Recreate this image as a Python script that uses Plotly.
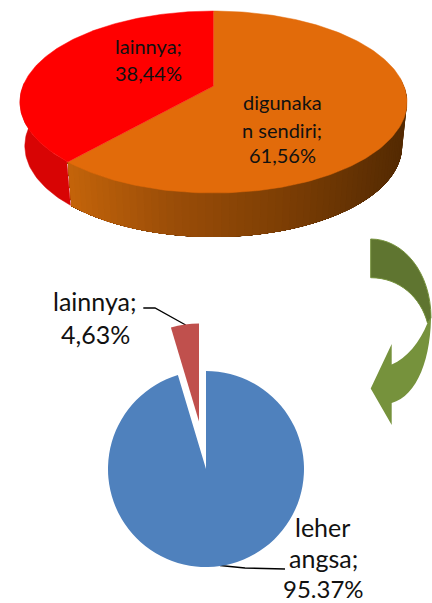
import numpy as np
import plotly.graph_objects as go

# ---- data ----
top_labels = ["lainnya", "digunakan sendiri"]
top_values = [38.44, 61.56]
bottom_labels = ["leher angsa", "lainnya"]
bottom_values = [95.37, 4.63]

top_text_lines = ["lainnya;", "38,44%", "digunaka", "n sendiri;", "61,56%"]
bottom_text_lines = ["lainnya;", "4,63%", "leher", "angsa;", "95.37%"]

W, H = 432, 603
FONT = "Lato, Carlito, Calibri, sans-serif"
TXT = "#111111"

# ---- top perspective pie geometry ----
CX, CY = 213.5, 102.0
RY, K, LIFT, RX = 91.0, 0.176, 16.0, 190.5
DEPTH, SHRINK = 44.0, 0.975


def rim(t_deg, depth=0.0, shrink=1.0):
    """Project a clockwise-from-top angle of the round pie into page pixels."""
    t = np.radians(t_deg)
    u, v = np.sin(t), np.cos(t)
    w = 1 + K * v
    return CX + shrink * RX * u / w, CY - (RY * v + LIFT) / w + depth


def apex():
    return CX, CY - LIFT


def mix(c1, c2, f):
    return "rgb(%d,%d,%d)" % tuple(round(a + (b - a) * f) for a, b in zip(c1, c2))


fig = go.Figure()


def poly(xs, ys, color, lw=0.5):
    fig.add_trace(go.Scatter(x=list(xs), y=list(ys), mode="lines", fill="toself",
                             fillcolor=color, line=dict(color=color, width=lw),
                             hoverinfo="skip", showlegend=False))


# the red slice runs anticlockwise from the top, the orange fills the rest
boundary = 360 - top_values[0] / sum(top_values) * 360

# side wall strips, painted back-to-front with each one reaching under the next
stops = [(0.0, (196, 100, 10)), (0.3, (156, 78, 8)), (0.65, (125, 62, 4)), (1.0, (84, 42, 2))]


def side_color(x):
    f = np.clip((x - 70) / (405 - 70), 0, 1)
    for (a, ca), (b, cb) in zip(stops, stops[1:]):
        if f <= b:
            return mix(ca, cb, (f - a) / (b - a))
    return mix(stops[-1][1], stops[-1][1], 0)


angles = np.linspace(85, boundary, 70)
for a0, a1 in zip(angles[:-1], angles[1:]):
    ts = np.linspace(a0, boundary, 40)
    x_top, y_top = rim(ts)
    x_bot, y_bot = rim(ts, DEPTH, SHRINK)
    xs = np.r_[x_top, x_bot[::-1]]
    ys = np.r_[y_top, y_bot[::-1]]
    poly(xs, ys, side_color(rim(a0)[0]), lw=0)

ts = np.linspace(272, boundary + 0.4, 40)
x_top, y_top = rim(ts)
x_bot, y_bot = rim(ts, DEPTH, SHRINK)
poly(np.r_[x_top, x_bot[::-1]], np.r_[y_top, y_bot[::-1]], "#D80404")

# top faces
ts = np.linspace(0, boundary, 200)
x, y = rim(ts)
poly(np.r_[apex()[0], x], np.r_[apex()[1], y], "#E26B0A")
ts = np.linspace(boundary, 360, 140)
x, y = rim(ts)
poly(np.r_[apex()[0], x], np.r_[apex()[1], y], "#FF0000")

# ---- bottom pie: each slice is its own native pie so the gap can run off freely ----
R = 98.0


def dom(cx, cy, r):
    return dict(x=[(cx - r) / W, (cx + r) / W], y=[1 - (cy + r) / H, 1 - (cy - r) / H])


clear = "rgba(0,0,0,0)"
fig.add_trace(go.Pie(labels=bottom_labels, values=bottom_values, sort=False,
                     direction="clockwise", rotation=0, textinfo="none", hoverinfo="skip",
                     marker=dict(colors=["#4F81BD", clear], line=dict(width=0)),
                     domain=dom(206, 469, R), showlegend=False))
fig.add_trace(go.Pie(labels=bottom_labels, values=bottom_values, sort=False,
                     direction="clockwise", rotation=0, textinfo="none", hoverinfo="skip",
                     marker=dict(colors=[clear, "#C0504D"], line=dict(width=0)),
                     domain=dom(199, 421.5, R), showlegend=False))

# ---- leader lines ----
for xs, ys in [([143.3, 155, 185.7], [308, 308, 325]),
               ([220, 245, 285], [565.5, 568, 569])]:
    fig.add_trace(go.Scatter(x=xs, y=ys, mode="lines", line=dict(color="#000000", width=1.3),
                             hoverinfo="skip", showlegend=False))

# ---- text ----
placed = [(top_text_lines[0], 148, 46, 20), (top_text_lines[1], 148, 73, 20),
          (top_text_lines[2], 282, 102, 20), (top_text_lines[3], 282, 130, 20),
          (top_text_lines[4], 282, 155, 20),
          (bottom_text_lines[0], 95, 301, 25), (bottom_text_lines[1], 95, 334, 25),
          (bottom_text_lines[2], 322, 527, 25), (bottom_text_lines[3], 323, 558, 25),
          (bottom_text_lines[4], 323, 588, 24)]
annotations = [dict(x=x, y=y, text=t, showarrow=False, xanchor="center", yanchor="middle",
                    font=dict(family=FONT, size=s, color=TXT)) for t, x, y, s in placed]

# ---- curved arrow ----
shapes = [
    dict(type="path", layer="above", xref="x", yref="y", fillcolor="#76923C", line=dict(width=0),
         path="M431,310 C432,358 417,396 391.7,403 L391.7,425 L370.7,388.5 L391.7,344 "
              "L391.7,364.5 C407,358 420,342 427.5,323 Z"),
    dict(type="path", layer="above", xref="x", yref="y", fillcolor="#5F7530",
         line=dict(color="#76923C", width=1),
         path="M370.7,239 C403,239 431,272 431,318 L427.5,323 C421,298 400,277.7 370.7,277.7 Z"),
]

fig.update_layout(
    width=W, height=H, margin=dict(l=0, r=0, t=0, b=0),
    paper_bgcolor="white", plot_bgcolor="white", showlegend=False,
    xaxis=dict(range=[0, W], visible=False, fixedrange=True),
    yaxis=dict(range=[H, 0], visible=False, fixedrange=True),
    annotations=annotations, shapes=shapes,
)
fig.write_html("out.html", config=dict(displayModeBar=False),
               post_script="document.body.style.margin='0';document.body.style.overflow='hidden';")
